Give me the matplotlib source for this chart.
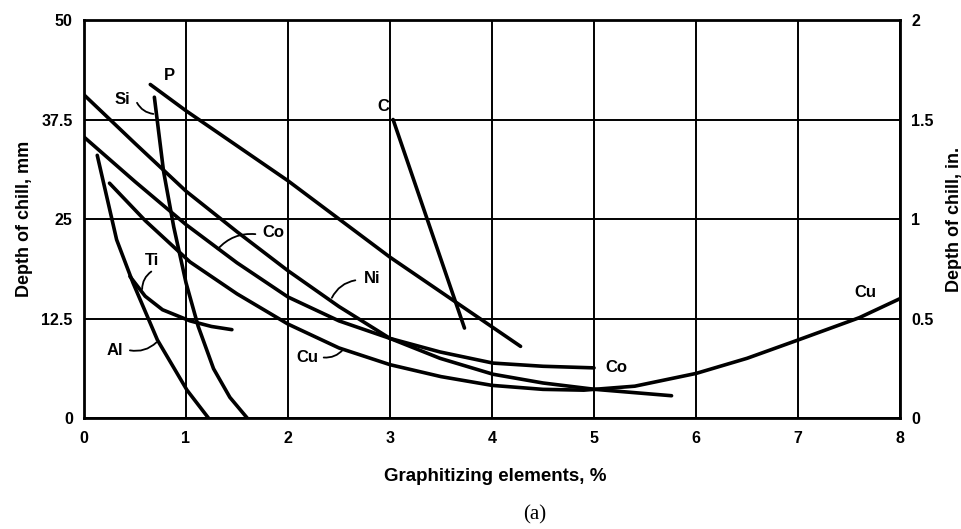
import matplotlib
matplotlib.use("Agg")
import matplotlib.pyplot as plt
from matplotlib import font_manager

# Depth of chill vs. graphitizing element content
P_x = [0.65, 1.0, 2.0, 3.0, 4.28]
P_y = [41.9, 38.6, 29.8, 20.2, 9.0]

Si_x = [0.69, 0.78, 0.88, 1.0, 1.12, 1.27, 1.43, 1.6]
Si_y = [40.3, 31.0, 24.0, 17.0, 11.5, 6.2, 2.6, 0.0]

C_x = [3.03, 3.73]
C_y = [37.5, 11.3]

Ni_x = [0.0, 0.5, 1.0, 1.5, 2.0, 2.5, 3.0, 3.49, 4.01, 4.5, 5.01, 5.76]
Ni_y = [40.6, 34.5, 28.5, 23.4, 18.5, 14.0, 10.0, 7.5, 5.5, 4.4, 3.6, 2.8]

Co_x = [0.0, 0.5, 1.0, 1.5, 2.0, 2.5, 3.0, 3.49, 4.01, 4.5, 5.0]
Co_y = [35.3, 29.7, 24.3, 19.5, 15.2, 12.2, 10.0, 8.3, 6.9, 6.5, 6.3]

Cu_x = [0.25, 0.6, 1.04, 1.5, 2.0, 2.5, 3.0, 3.5, 4.0, 4.5, 4.9, 5.4, 6.0, 6.5, 7.0, 7.6, 8.0]
Cu_y = [29.5, 24.8, 19.6, 15.6, 11.8, 8.8, 6.7, 5.2, 4.1, 3.6, 3.5, 4.0, 5.6, 7.5, 9.8, 12.6, 15.0]

Ti_x = [0.45, 0.6, 0.77, 1.04, 1.25, 1.45]
Ti_y = [17.8, 15.3, 13.6, 12.2, 11.5, 11.1]

Al_x = [0.13, 0.32, 0.48, 0.72, 1.01, 1.22]
Al_y = [33.0, 22.4, 17.0, 9.8, 3.5, 0.0]

curves = [(P_x, P_y), (Si_x, Si_y), (C_x, C_y), (Ni_x, Ni_y),
          (Co_x, Co_y), (Cu_x, Cu_y), (Ti_x, Ti_y), (Al_x, Al_y)]

# curve labels and their leader lines (None = no leader)
label_text = ["P", "Si", "C", "Co", "Ti", "Al", "Ni", "Cu", "Co", "Cu"]
label_x = [0.84, 0.38, 2.93, 1.86, 0.67, 0.30, 2.82, 2.19, 5.22, 7.66]
label_y = [43.0, 40.0, 39.1, 23.3, 19.8, 8.5, 17.5, 7.6, 6.4, 15.8]
leader_from = [None, (0.52, 39.6), None, (1.68, 23.1), (0.66, 18.4),
               (0.45, 8.5), (2.66, 17.3), (2.35, 7.6), None, None]
leader_to = [None, (0.68, 38.2), None, (1.31, 21.2), (0.57, 16.2),
             (0.71, 9.5), (2.43, 15.1), (2.54, 8.6), None, None]

x_ticks = [0, 1, 2, 3, 4, 5, 6, 7, 8]
mm_ticks = [0, 12.5, 25, 37.5, 50]
mm_tick_labels = ["0", "12.5", "25", "37.5", "50"]
in_ticks = [0, 0.5, 1, 1.5, 2]
in_tick_labels = ["0", "0.5", "1", "1.5", "2"]

installed = {f.name for f in font_manager.fontManager.ttflist}
sans = "Liberation Sans" if "Liberation Sans" in installed else "DejaVu Sans"
narrow = "Liberation Sans Narrow" if "Liberation Sans Narrow" in installed else sans
serif = "Liberation Serif" if "Liberation Serif" in installed else "DejaVu Serif"

fig = plt.figure(figsize=(9.62, 5.29), dpi=100)
ax = fig.add_axes([0.0873, 0.2098, 0.8483, 0.7524])

ax.set_xlim(0, 8)
ax.set_ylim(0, 50)
ax.set_xticks(x_ticks)
ax.set_yticks(mm_ticks)
ax.set_xticklabels([str(t) for t in x_ticks], fontfamily=narrow,
                   fontweight="bold", fontsize=11.5)
ax.set_yticklabels(mm_tick_labels, fontfamily=narrow, fontweight="bold",
                   fontsize=11.5)
ax.tick_params(axis="both", length=0)
ax.tick_params(axis="y", pad=8)
ax.tick_params(axis="x", pad=9)

ax.grid(True, color="black", linewidth=1.4)
ax.set_axisbelow(True)
for s in ax.spines.values():
    s.set_linewidth(2.0)
    s.set_color("black")

for xs, ys in curves:
    ax.plot(xs, ys, color="black", linewidth=2.6,
            solid_joinstyle="round", solid_capstyle="round", zorder=3)

for t, lx, ly, lf, lt in zip(label_text, label_x, label_y, leader_from, leader_to):
    ax.text(lx, ly, t, ha="center", va="center", fontsize=12,
            fontweight="bold", fontfamily=sans, zorder=4)
    if lf is not None:
        ax.annotate("", xy=lt, xytext=lf,
                    arrowprops=dict(arrowstyle="-", color="black", lw=1.3,
                                    shrinkA=0, shrinkB=0,
                                    connectionstyle="arc3,rad=0.25"))

ax.set_xlabel("Graphitizing elements, %", fontsize=13.5, fontweight="bold",
              fontfamily=sans)
ax.xaxis.set_label_coords(0.504, -0.125)
ax.set_ylabel("Depth of chill, mm", fontsize=13, fontweight="bold",
              fontfamily=sans)
ax.yaxis.set_label_coords(-0.062, 0.5)

ax2 = ax.twinx()
ax2.set_ylim(0, 2)
ax2.set_yticks(in_ticks)
ax2.set_yticklabels(in_tick_labels, fontfamily=narrow, fontweight="bold",
                    fontsize=11.5)
ax2.tick_params(axis="y", length=0, pad=8)
for s in ax2.spines.values():
    s.set_visible(False)
ax2.set_ylabel("Depth of chill, in.", fontsize=13, fontweight="bold",
               fontfamily=sans, rotation=90)
ax2.yaxis.set_label_coords(1.056, 0.5)

fig.text(0.556, 0.026, "(a)", ha="center", va="center", fontsize=15,
         fontfamily=serif)

fig.savefig("out.png", dpi=100, facecolor="white")
